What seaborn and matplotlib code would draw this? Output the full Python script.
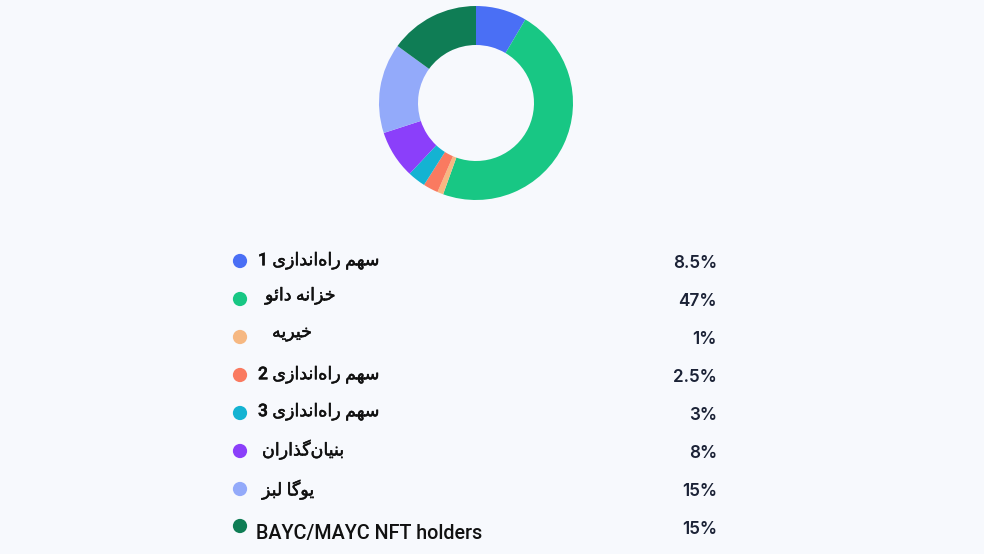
import matplotlib
matplotlib.use("Agg")
import matplotlib.pyplot as plt
import matplotlib.patheffects as pe
import seaborn as sns
import pandas as pd

# ---- data ----
labels = [
    "سهم راه‌اندازی 1",
    "خزانه دائو",
    "خیریه",
    "سهم راه‌اندازی 2",
    "سهم راه‌اندازی 3",
    "بنیان‌گذاران",
    "یوگا لبز",
    "BAYC/MAYC NFT holders",
]
values = [8.5, 47, 1, 2.5, 3, 8, 15, 15]
value_labels = ["8.5%", "47%", "1%", "2.5%", "3%", "8%", "15%", "15%"]
colors = ["#4a6ff5", "#18c784", "#f6b882", "#fa7a60", "#14b3d2",
          "#8b3ffa", "#93aafa", "#0f7d55"]

# ---- minimal Arabic/Persian shaping (matplotlib has no bidi/shaping) ----
DUAL = {
    "ب": ("\uFE8F", "\uFE90", "\uFE91", "\uFE92"),
    "ت": ("\uFE95", "\uFE96", "\uFE97", "\uFE98"),
    "خ": ("\uFEA5", "\uFEA6", "\uFEA7", "\uFEA8"),
    "س": ("\uFEB1", "\uFEB2", "\uFEB3", "\uFEB4"),
    "گ": ("\uFB92", "\uFB93", "\uFB94", "\uFB95"),
    "ل": ("\uFEDD", "\uFEDE", "\uFEDF", "\uFEE0"),
    "م": ("\uFEE1", "\uFEE2", "\uFEE3", "\uFEE4"),
    "ن": ("\uFEE5", "\uFEE6", "\uFEE7", "\uFEE8"),
    "ه": ("\uFEE9", "\uFEEA", "\uFEEB", "\uFEEC"),
    "ی": ("\uFBFC", "\uFBFD", "\uFBFE", "\uFBFF"),
    "ئ": ("\uFE89", "\uFE8A", "\uFE8B", "\uFE8C"),
}
RIGHT = {
    "ا": ("\uFE8D", "\uFE8E"),
    "د": ("\uFEA9", "\uFEAA"),
    "ذ": ("\uFEAB", "\uFEAC"),
    "ر": ("\uFEAD", "\uFEAE"),
    "ز": ("\uFEAF", "\uFEB0"),
    "و": ("\uFEED", "\uFEEE"),
}


def is_arabic(text):
    return any(c in DUAL or c in RIGHT for c in text)


def shape(text):
    if not is_arabic(text):
        return text
    out = []
    n = len(text)
    for i, c in enumerate(text):
        if c == "\u200c":
            continue
        prev = text[i - 1] if i > 0 else ""
        nxt = text[i + 1] if i + 1 < n else ""
        jp = prev in DUAL and (c in DUAL or c in RIGHT)
        jn = c in DUAL and (nxt in DUAL or nxt in RIGHT)
        if c in DUAL:
            iso, fin, ini, med = DUAL[c]
            out.append(med if jp and jn else fin if jp else ini if jn else iso)
        elif c in RIGHT:
            iso, fin = RIGHT[c]
            out.append(fin if jp else iso)
        else:
            out.append(c)
    return "".join(reversed(out))


# ---- figure ----
W, H, DPI = 984, 554, 100
bg = "#f7f9fd"
sns.set_theme(style="white")
plt.rcParams["font.family"] = ["Roboto", "DejaVu Sans"]
fig = plt.figure(figsize=(W / DPI, H / DPI), dpi=DPI, facecolor=bg)

# donut
cx, cy, r_out, r_in = 476, 103, 97, 58
pax = fig.add_axes([(cx - r_out) / W, (H - cy - r_out) / H, 2 * r_out / W, 2 * r_out / H])
pax.pie(values, colors=colors, startangle=90, counterclock=False,
        wedgeprops=dict(width=(r_out - r_in) / r_out, linewidth=0))
pax.set_xlim(-1, 1)
pax.set_ylim(-1, 1)
pax.set_aspect("equal")
pax.axis("off")

# legend rows
lax = fig.add_axes([0, 0, 1, 1])
lax.patch.set_alpha(0)

row_y0, row_dy = 261, 38.0
dot_y = [row_y0 + i * row_dy for i in range(len(labels))]
dot_y[-1] -= 1
df = pd.DataFrame({"label": labels, "x": [240] * len(labels), "y": dot_y})
sns.scatterplot(data=df, x="x", y="y", hue="label", palette=colors,
                s=105, linewidth=0, legend=False, ax=lax)
lax.set_xlim(0, W)
lax.set_ylim(H, 0)
lax.axis("off")

label_x = [258, 265, 272, 258, 258, 262, 262, 256]
text_dy = [0, -3, -3, 0, -1, -1, 1, 7]
bold_fx = [pe.withStroke(linewidth=0.35, foreground="#111111")]
for i, (lab, vl) in enumerate(zip(labels, value_labels)):
    y = row_y0 + i * row_dy
    if is_arabic(lab):
        lax.text(label_x[i], y + text_dy[i], shape(lab), ha="left", va="center",
                 fontsize=12.6, color="#111111", fontweight="medium",
                 family=["Roboto", "DejaVu Sans"], path_effects=bold_fx)
    else:
        lax.text(label_x[i], y + text_dy[i], lab, ha="left", va="center",
                 fontsize=14.2, color="#111111", fontweight="medium",
                 family=["Roboto", "DejaVu Sans"])
    lax.text(717, y + 2, vl, ha="right", va="center", fontsize=12.3,
             color="#1b2236", family=["Inter", "DejaVu Sans"], fontweight="semibold")

fig.savefig("out.png", dpi=DPI, facecolor=bg)
